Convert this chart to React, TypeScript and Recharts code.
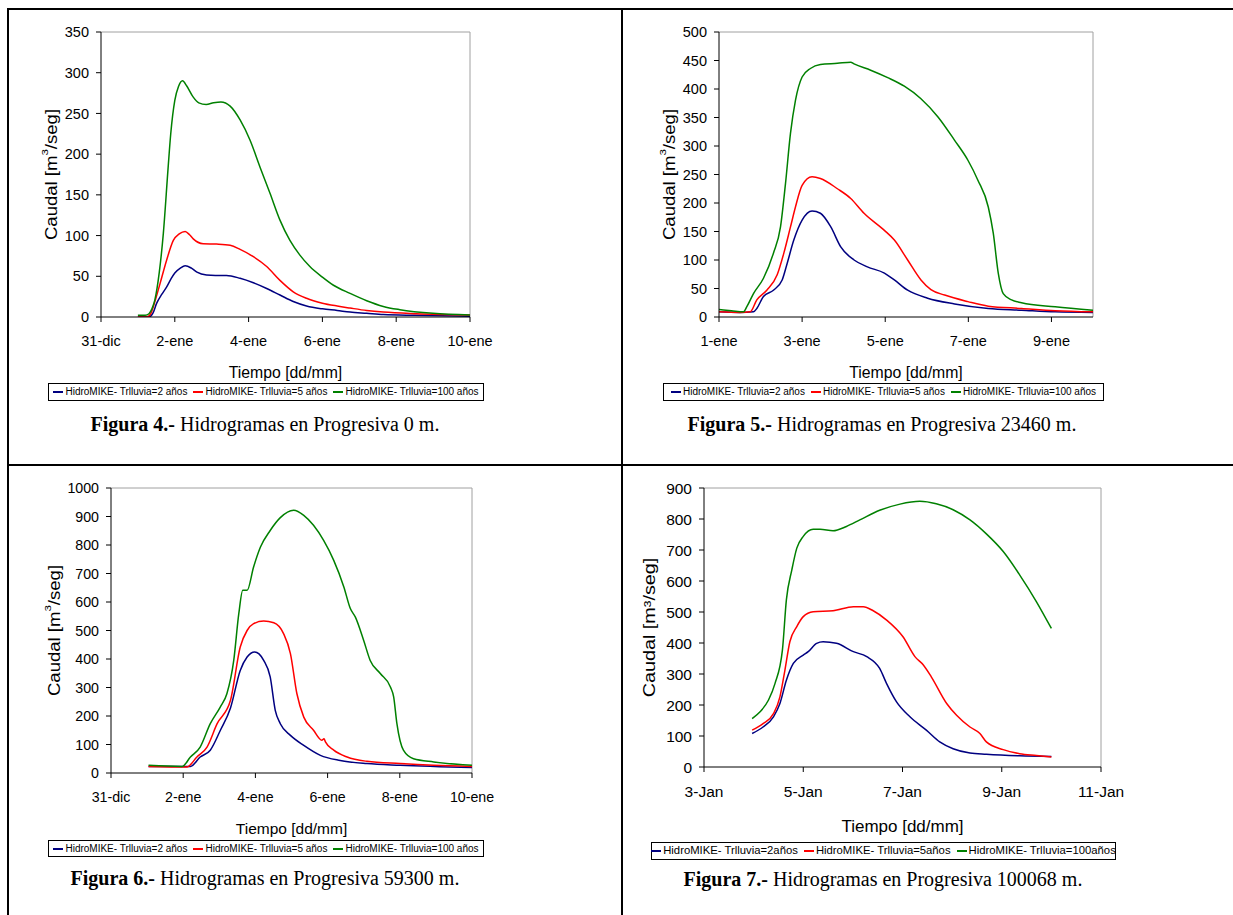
import React from 'react';
import { LineChart, Line, XAxis, YAxis, Legend, ReferenceLine } from 'recharts';

type Pt = [number, number];

// ---------- shared labels ----------
const namesA = ['HidroMIKE- Trlluvia=2 años', 'HidroMIKE- Trlluvia=5 años', 'HidroMIKE- Trlluvia=100 años'];
const namesB = ['HidroMIKE- Trlluvia=2años', 'HidroMIKE- Trlluvia=5años', 'HidroMIKE- Trlluvia=100años'];
const xTitle = 'Tiempo [dd/mm]';

// ---------- Figura 4 (day 0 = 31-dic) ----------
const fig4XTicks = [0, 2, 4, 6, 8, 10];
const fig4XLabels = ['31-dic', '2-ene', '4-ene', '6-ene', '8-ene', '10-ene'];
const fig4YTicks = [0, 50, 100, 150, 200, 250, 300, 350];
const fig4Q2: Pt[] = [[1.0, 0], [1.3, 0], [1.4, 4], [1.51, 17], [1.65, 28], [1.78, 37], [1.9, 47], [2.0, 54], [2.15, 60], [2.28, 63], [2.45, 60], [2.6, 55], [2.86, 51.5], [3.1, 51], [3.4, 51], [3.77, 47.5], [4.13, 42], [4.49, 35], [4.85, 27], [5.21, 19], [5.57, 13.5], [6.0, 10], [6.4, 8], [6.75, 6], [7.2, 4.5], [7.65, 3], [8.5, 2], [10, 1]];
const fig4Q5: Pt[] = [[1.0, 0], [1.25, 0], [1.35, 4], [1.42, 13], [1.6, 41], [1.78, 70], [1.96, 94], [2.12, 102], [2.28, 105], [2.4, 101], [2.5, 96], [2.77, 90], [3.13, 89.5], [3.5, 88], [3.77, 83], [4.13, 74], [4.49, 62], [4.85, 45], [5.21, 31], [5.57, 23], [6.0, 17], [6.4, 13.5], [6.75, 11], [7.2, 8], [7.65, 6], [8.55, 4], [10, 2.5]];
const fig4Q100: Pt[] = [[1.0, 2], [1.2, 2], [1.3, 4], [1.38, 10], [1.46, 21], [1.58, 55], [1.69, 103], [1.82, 184], [1.89, 225], [2.0, 266], [2.1, 283], [2.21, 290], [2.32, 284], [2.5, 270], [2.65, 263], [2.85, 261], [3.05, 263], [3.25, 264], [3.5, 259], [3.77, 242], [4.04, 217], [4.31, 184], [4.58, 152], [4.85, 119], [5.12, 94], [5.39, 76], [5.66, 62], [6.0, 49], [6.3, 39], [6.75, 29], [7.2, 20], [7.65, 13], [8.1, 9], [9.0, 4.5], [10, 2.5]];

// ---------- Figura 5 (day = día de enero) ----------
const fig5XTicks = [1, 3, 5, 7, 9];
const fig5XLabels = ['1-ene', '3-ene', '5-ene', '7-ene', '9-ene'];
const fig5YTicks = [0, 50, 100, 150, 200, 250, 300, 350, 400, 450, 500];
const fig5Q2: Pt[] = [[1.0, 9], [1.5, 8], [1.83, 9], [1.91, 15], [2.07, 36], [2.31, 47], [2.52, 65], [2.64, 94], [2.8, 135], [3.0, 170], [3.24, 186], [3.44, 182], [3.69, 158], [3.93, 123], [4.25, 100], [4.57, 88], [4.98, 77], [5.22, 65], [5.54, 47], [6.02, 33], [6.67, 23], [7.48, 15], [8.28, 12], [9.09, 9], [10.0, 8]];
const fig5Q5: Pt[] = [[1.0, 9], [1.5, 8], [1.75, 9], [1.91, 30], [2.15, 47], [2.4, 74], [2.56, 112], [2.72, 158], [2.84, 193], [3.0, 231], [3.24, 246], [3.44, 243], [3.85, 225], [4.17, 208], [4.49, 182], [4.98, 152], [5.22, 135], [5.54, 100], [5.86, 65], [6.1, 48], [6.43, 38.5], [6.99, 27], [7.48, 19], [8.28, 15], [9.09, 11], [10.0, 9]];
const fig5Q100: Pt[] = [[1.0, 13], [1.3, 11], [1.59, 9], [1.67, 18], [1.83, 41], [2.07, 68], [2.31, 112], [2.48, 158], [2.6, 234], [2.72, 322], [2.84, 380], [3.0, 421], [3.2, 436], [3.44, 443], [3.85, 445], [4.17, 447], [4.25, 444], [4.65, 433], [5.06, 420], [5.46, 405], [5.86, 383], [6.27, 351], [6.67, 310], [6.99, 275], [7.23, 240], [7.48, 193], [7.6, 147], [7.72, 77], [7.84, 41], [8.04, 30], [8.28, 25], [9.09, 18], [10.0, 12]];

// ---------- Figura 6 (day 0 = 31-dic) ----------
const fig6XTicks = [0, 2, 4, 6, 8, 10];
const fig6XLabels = ['31-dic', '2-ene', '4-ene', '6-ene', '8-ene', '10-ene'];
const fig6YTicks = [0, 100, 200, 300, 400, 500, 600, 700, 800, 900, 1000];
const fig6Q2: Pt[] = [[1.04, 23], [2.2, 23], [2.47, 56], [2.75, 80], [3.03, 150], [3.31, 228], [3.58, 360], [3.77, 407], [3.98, 425], [4.1, 418], [4.23, 395], [4.41, 337], [4.55, 220], [4.69, 173], [4.97, 132], [5.34, 97], [5.8, 62], [6.35, 44], [7.09, 33], [8.01, 27], [10, 19]];
const fig6Q5: Pt[] = [[1.04, 23], [2.1, 21], [2.38, 56], [2.66, 91], [2.94, 173], [3.31, 255], [3.58, 442], [3.77, 500], [3.95, 524], [4.23, 533], [4.51, 527], [4.78, 489], [4.97, 419], [5.15, 278], [5.34, 196], [5.61, 150], [5.84, 115], [5.9, 120], [5.94, 109], [6.17, 80], [6.54, 56], [7.09, 41], [8.01, 33], [8.94, 27], [10, 23]];
const fig6Q100: Pt[] = [[1.04, 27], [1.97, 23], [2.2, 56], [2.47, 91], [2.75, 173], [3.03, 232], [3.21, 278], [3.4, 395], [3.54, 559], [3.65, 641], [3.77, 641], [3.95, 723], [4.14, 793], [4.41, 851], [4.69, 896], [5.06, 922], [5.34, 904], [5.61, 869], [5.89, 816], [6.17, 746], [6.45, 653], [6.63, 577], [6.77, 547], [7.0, 465], [7.18, 395], [7.46, 349], [7.74, 302], [7.83, 267], [7.92, 173], [8.1, 80], [8.38, 50], [8.94, 39], [10, 27]];

// ---------- Figura 7 (day = día de enero) ----------
const fig7XTicks = [3, 5, 7, 9, 11];
const fig7XLabels = ['3-Jan', '5-Jan', '7-Jan', '9-Jan', '11-Jan'];
const fig7YTicks = [0, 100, 200, 300, 400, 500, 600, 700, 800, 900];
const fig7Q2: Pt[] = [[3.97, 108], [4.19, 129], [4.4, 162], [4.53, 205], [4.66, 280], [4.8, 334], [5.0, 361], [5.1, 372], [5.27, 399], [5.4, 404], [5.67, 399], [6.01, 372], [6.28, 356], [6.54, 318], [6.68, 269], [6.88, 210], [7.15, 162], [7.48, 119], [7.75, 81], [8.02, 59], [8.36, 45], [8.69, 41], [9.36, 36], [10.0, 34]];
const fig7Q5: Pt[] = [[3.97, 119], [4.19, 140], [4.4, 172], [4.53, 226], [4.63, 312], [4.73, 404], [4.87, 453], [5.0, 485], [5.2, 501], [5.6, 504], [6.01, 517], [6.21, 517], [6.41, 504], [6.68, 474], [7.01, 420], [7.25, 356], [7.42, 329], [7.58, 291], [7.89, 205], [8.09, 167], [8.36, 129], [8.56, 108], [8.69, 81], [9.03, 56], [9.36, 43], [9.7, 37], [10.0, 32]];
const fig7Q100: Pt[] = [[3.97, 156], [4.13, 178], [4.3, 216], [4.43, 269], [4.58, 377], [4.66, 539], [4.77, 636], [4.87, 706], [5.0, 744], [5.2, 767], [5.34, 767], [5.6, 762], [5.87, 776], [6.14, 797], [6.54, 828], [6.95, 848], [7.35, 857], [7.68, 849], [8.02, 830], [8.36, 797], [8.69, 752], [9.03, 695], [9.36, 620], [9.7, 533], [10.0, 447]];

// ---------- styling ----------
const SANS = '"Liberation Sans", Arial, Helvetica, sans-serif';
const SERIF = '"Liberation Serif", "Times New Roman", serif';
const COLORS = ['#000080', '#FF0000', '#008000'];

const toRows = (pts: Pt[]) => pts.map(([t, q]) => ({ t, q }));

type Rect = { L: number; T: number; R: number; B: number };
type PanelProps = {
  ox: number; oy: number;
  plot: Rect;
  series: Pt[][];
  names: string[];
  xTicks: number[]; xLabels: string[]; xDomain: [number, number];
  yTicks: number[];
  tickFont: number; titleFont: number;
  yTitleX: number; yTitleFont: number; yTitleStretch: number; supScript: boolean;
  xTitleY: number;
  legend: { x: number; y: number; w: number; h: number; font: number };
  caption: { cx: number; top: number; bold: string; rest: string };
};

function Panel(p: PanelProps) {
  const W = 613, H = 455, YW = 60, XH = 40;
  const margin = {
    top: p.plot.T - p.oy,
    left: p.plot.L - p.ox - YW,
    right: p.ox + W - p.plot.R,
    bottom: p.oy + H - p.plot.B - XH,
  };
  const yMax = p.yTicks[p.yTicks.length - 1];
  const xMax = p.xDomain[1];

  const renderYTitle = () => {
    const x = p.yTitleX - p.ox;
    const y = (p.plot.T + p.plot.B) / 2 - p.oy;
    return (
      <text
        transform={`translate(${x},${y}) rotate(-90) scale(${p.yTitleStretch},1)`}
        textAnchor="middle"
        dominantBaseline="central"
        fontFamily={SANS}
        fontSize={p.yTitleFont}
        fill="#000"
      >
        {p.supScript ? (
          <>
            <tspan>Caudal [m</tspan>
            <tspan dy={-7} fontSize={p.yTitleFont * 0.62}>3</tspan>
            <tspan dy={7}>/seg]</tspan>
          </>
        ) : (
          <tspan>Caudal [m³/seg]</tspan>
        )}
      </text>
    );
  };

  const renderXTitle = () => (
    <text
      x={(p.plot.L + p.plot.R) / 2 - p.ox}
      y={p.xTitleY - p.oy}
      textAnchor="middle"
      dominantBaseline="central"
      fontFamily={SANS}
      fontSize={p.titleFont}
      fill="#000"
    >
      {xTitle}
    </text>
  );

  const renderLegend = (lp: any) => {
    const payload = [...(lp.payload || [])].sort(
      (a: any, b: any) => p.names.indexOf(a.value) - p.names.indexOf(b.value)
    );
    return (
      <div
        style={{
          boxSizing: 'border-box',
          width: p.legend.w,
          height: p.legend.h,
          border: '1px solid #000',
          background: '#fff',
          display: 'flex',
          alignItems: 'center',
          justifyContent: 'center',
          fontFamily: SANS,
          fontSize: p.legend.font,
          whiteSpace: 'nowrap',
          color: '#000',
          lineHeight: 1,
        }}
      >
        {payload.map((e: any, i: number) => (
          <span key={i} style={{ display: 'flex', alignItems: 'center', marginLeft: i ? 6 : 0 }}>
            <span style={{ display: 'inline-block', width: 10, height: 2, background: e.color, marginRight: 2 }} />
            {e.value}
          </span>
        ))}
      </div>
    );
  };

  const tickStyle = { fill: '#000', fontSize: p.tickFont, fontFamily: SANS };

  return (
    <>
      <div style={{ position: 'absolute', left: p.ox, top: p.oy, width: W, height: H }}>
        <LineChart width={W} height={H} margin={margin}>
          <XAxis
            dataKey="t"
            type="number"
            domain={p.xDomain}
            ticks={p.xTicks}
            interval={0}
            allowDataOverflow
            height={XH}
            tickSize={5}
            tickMargin={14}
            tick={tickStyle}
            tickFormatter={(v: number) => p.xLabels[p.xTicks.indexOf(v)] ?? ''}
            axisLine={{ stroke: '#000', strokeWidth: 1 }}
            tickLine={{ stroke: '#000', strokeWidth: 1 }}
            label={{ content: renderXTitle }}
          />
          <YAxis
            type="number"
            domain={[0, yMax]}
            ticks={p.yTicks}
            interval={0}
            allowDataOverflow
            width={YW}
            tickSize={5}
            tickMargin={7}
            tick={tickStyle}
            axisLine={{ stroke: '#000', strokeWidth: 1 }}
            tickLine={{ stroke: '#000', strokeWidth: 1 }}
            label={{ content: renderYTitle }}
          />
          <ReferenceLine y={yMax} stroke="#a0a0a0" strokeWidth={1} />
          <ReferenceLine x={xMax} stroke="#a0a0a0" strokeWidth={1} />
          {p.series.map((s, i) => (
            <Line
              key={i}
              data={toRows(s)}
              dataKey="q"
              name={p.names[i]}
              type="monotone"
              stroke={COLORS[i]}
              strokeWidth={1.5}
              dot={false}
              activeDot={false}
              isAnimationActive={false}
            />
          ))}
          <Legend
            layout="horizontal"
            verticalAlign="middle"
            align="center"
            content={renderLegend}
            wrapperStyle={{ left: p.legend.x - p.ox, top: p.legend.y - p.oy, width: p.legend.w, height: p.legend.h }}
          />
        </LineChart>
      </div>
      <div
        style={{
          position: 'absolute',
          left: p.caption.cx - 300,
          top: p.caption.top,
          width: 600,
          textAlign: 'center',
          fontFamily: SERIF,
          fontSize: 20,
          lineHeight: '20px',
          color: '#000',
          whiteSpace: 'nowrap',
        }}
      >
        <b>{p.caption.bold}</b> {p.caption.rest}
      </div>
    </>
  );
}

export default function App() {
  const line = (s: React.CSSProperties) => <div style={{ position: 'absolute', background: '#000', ...s }} />;
  return (
    <div style={{ position: 'absolute', left: 0, top: 0, width: 1233, height: 915, background: '#fff', overflow: 'hidden' }}>
      <Panel
        ox={0} oy={0}
        plot={{ L: 101, T: 32, R: 470, B: 317 }}
        series={[fig4Q2, fig4Q5, fig4Q100]}
        names={namesA}
        xTicks={fig4XTicks} xLabels={fig4XLabels} xDomain={[0, 10]}
        yTicks={fig4YTicks}
        tickFont={14.5} titleFont={15.8}
        yTitleX={51} yTitleFont={16} yTitleStretch={1.16} supScript
        xTitleY={372}
        legend={{ x: 48, y: 383, w: 436, h: 18, font: 10 }}
        caption={{ cx: 265, top: 414, bold: 'Figura 4.-', rest: 'Hidrogramas en Progresiva 0 m.' }}
      />
      <Panel
        ox={620} oy={0}
        plot={{ L: 719, T: 32, R: 1093, B: 317 }}
        series={[fig5Q2, fig5Q5, fig5Q100]}
        names={namesA}
        xTicks={fig5XTicks} xLabels={fig5XLabels} xDomain={[1, 10]}
        yTicks={fig5YTicks}
        tickFont={14.5} titleFont={15.8}
        yTitleX={669} yTitleFont={16} yTitleStretch={1.16} supScript
        xTitleY={372}
        legend={{ x: 663, y: 383, w: 441, h: 18, font: 10 }}
        caption={{ cx: 882, top: 414, bold: 'Figura 5.-', rest: 'Hidrogramas en Progresiva 23460 m.' }}
      />
      <Panel
        ox={0} oy={460}
        plot={{ L: 111, T: 488, R: 472, B: 773 }}
        series={[fig6Q2, fig6Q5, fig6Q100]}
        names={namesA}
        xTicks={fig6XTicks} xLabels={fig6XLabels} xDomain={[0, 10]}
        yTicks={fig6YTicks}
        tickFont={14.2} titleFont={15.5}
        yTitleX={54} yTitleFont={16} yTitleStretch={1.16} supScript
        xTitleY={828}
        legend={{ x: 48, y: 840, w: 436, h: 17, font: 10 }}
        caption={{ cx: 265, top: 868, bold: 'Figura 6.-', rest: 'Hidrogramas en Progresiva 59300 m.' }}
      />
      <Panel
        ox={620} oy={460}
        plot={{ L: 704, T: 488, R: 1101, B: 767 }}
        series={[fig7Q2, fig7Q5, fig7Q100]}
        names={namesB}
        xTicks={fig7XTicks} xLabels={fig7XLabels} xDomain={[3, 11]}
        yTicks={fig7YTicks}
        tickFont={15.5} titleFont={17}
        yTitleX={650} yTitleFont={16.5} yTitleStretch={1.2} supScript={false}
        xTitleY={826}
        legend={{ x: 651, y: 842, w: 465, h: 18, font: 11.3 }}
        caption={{ cx: 883, top: 869, bold: 'Figura 7.-', rest: 'Hidrogramas en Progresiva 100068 m.' }}
      />
      {line({ left: 7, top: 8, width: 1226, height: 2 })}
      {line({ left: 7, top: 8, width: 2, height: 907 })}
      {line({ left: 621, top: 8, width: 2, height: 907 })}
      {line({ left: 7, top: 464, width: 1226, height: 2 })}
    </div>
  );
}
